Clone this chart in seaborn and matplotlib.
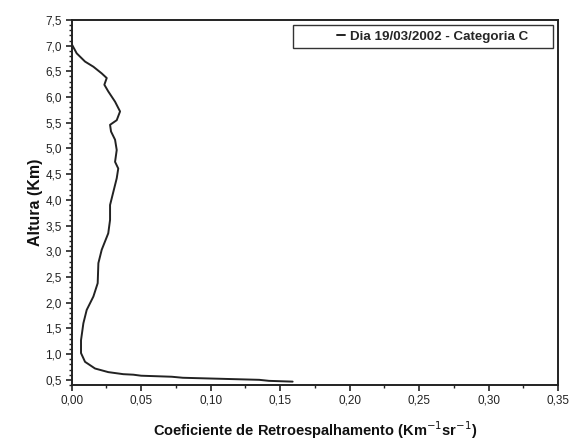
import matplotlib
matplotlib.use("Agg")
import matplotlib.pyplot as plt
import matplotlib.ticker as mticker
from matplotlib.patches import Rectangle
import seaborn as sns
import pandas as pd

altura = [7.01, 6.85, 6.69, 6.59, 6.46, 6.37, 6.24, 6.11, 5.91, 5.72, 5.55, 5.46, 5.33,
          5.17, 4.97, 4.74, 4.61, 4.42, 4.16, 3.90, 3.61, 3.35, 3.03, 2.77, 2.38, 2.12,
          1.86, 1.60, 1.27, 1.02, 0.85, 0.72, 0.65, 0.61, 0.60, 0.58, 0.56, 0.54, 0.50,
          0.48, 0.465]
coef = [0.0004, 0.0036, 0.0096, 0.0156, 0.0216, 0.0252, 0.0235, 0.0263, 0.0312, 0.0348,
        0.0324, 0.0276, 0.0283, 0.0312, 0.0324, 0.0312, 0.0335, 0.0324, 0.0300, 0.0276,
        0.0276, 0.0263, 0.0216, 0.0192, 0.0187, 0.0156, 0.0108, 0.0084, 0.0067, 0.0067,
        0.0096, 0.0168, 0.0263, 0.0371, 0.0443, 0.050, 0.072, 0.080, 0.135, 0.142, 0.159]
serie = "Dia 19/03/2002 - Categoria C"

df = pd.DataFrame({"coef": coef, "altura": altura, "serie": serie})

sns.set_theme(style="ticks")
plt.rcParams['font.family'] = ['Liberation Sans', 'DejaVu Sans']

fig = plt.figure(figsize=(5.75, 4.43), dpi=100)
ax = fig.add_axes([0.1247, 0.131, 0.8458, 0.824])

sns.lineplot(data=df, x="coef", y="altura", hue="serie", palette=["#222222"],
             sort=False, estimator=None, linewidth=1.4, ax=ax)

ax.set_xlim(0, 0.35)
ax.set_ylim(0.40, 7.5)
ax.xaxis.set_major_locator(mticker.MultipleLocator(0.05))
ax.xaxis.set_minor_locator(mticker.MultipleLocator(0.025))
ax.yaxis.set_major_locator(mticker.FixedLocator([0.5 + 0.5 * i for i in range(15)]))
ax.yaxis.set_minor_locator(mticker.MultipleLocator(0.1))
ax.xaxis.set_major_formatter(mticker.FuncFormatter(lambda v, p: f"{v:.2f}".replace(".", ",")))
ax.yaxis.set_major_formatter(mticker.FuncFormatter(lambda v, p: f"{v:.1f}".replace(".", ",")))
ax.tick_params(axis="both", which="major", direction="out", length=4, width=1.2,
               labelsize=8.5, color="#222222", labelcolor="#222222", pad=3)
ax.tick_params(axis="both", which="minor", direction="out", length=2, width=1, color="#222222")
for s in ax.spines.values():
    s.set_linewidth(1.4)
    s.set_color("#222222")

ax.set_xlabel("Coeficiente de Retroespalhamento (Km$^{-1}$sr$^{-1}$)", fontsize=10.5,
              fontweight="bold", color="#111111", labelpad=9)
ax.set_ylabel("Altura (Km)", fontsize=11.5, fontweight="bold", color="#111111", labelpad=2)

# legend box
ax.add_patch(Rectangle((0.456, 0.922), 0.534, 0.064, transform=ax.transAxes,
                       facecolor="white", edgecolor="#333333", linewidth=1.0, zorder=4))
leg = ax.legend(loc="center right", bbox_to_anchor=(0.945, 0.954), fontsize=9.6,
                handlelength=0.6, handletextpad=0.4, frameon=False, borderpad=0.2,
                borderaxespad=0)
leg.set_zorder(5)
for t in leg.get_texts():
    t.set_fontweight("bold")

fig.savefig("out.png", dpi=100)
